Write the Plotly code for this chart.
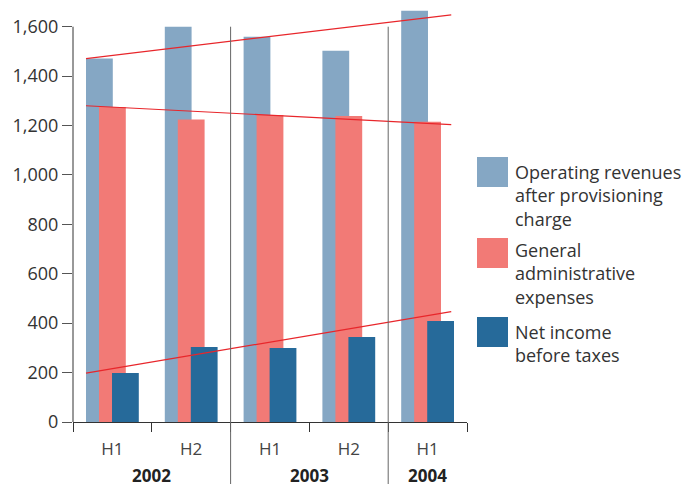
import plotly.graph_objects as go

# ---- data ----
periods = ["H1", "H2", "H1", "H2", "H1"]
years = ["2002", "2002", "2003", "2003", "2004"]
operating_revenues = [1471, 1600, 1559, 1503, 1665]
admin_expenses = [1275, 1224, 1243, 1239, 1215]
net_income = [198, 304, 300, 344, 409]
# hand-drawn trend lines: value at start, value at end
revenues_trend = [1471, 1648]
expenses_trend = [1280, 1204]
income_trend = [198, 447]
y_ticks = [0, 200, 400, 600, 800, 1000, 1200, 1400, 1600]
series_names = [
    "Operating revenues after provisioning charge",
    "General administrative expenses",
    "Net income before taxes",
]
legend_lines = [
    ["Operating revenues", "after provisioning", "charge"],
    ["General", "administrative", "expenses"],
    ["Net income", "before taxes"],
]

# ---- styling ----
C_REV = "#85A7C4"
C_EXP = "#F27A76"
C_INC = "#266A9A"
C_TREND = "#E8262B"
FONT = "Open Sans"
TXT = "#333333"

W, H = 689, 487
ML, MR, MT, MB = 73, 222, 2, 65
PW, PH = W - ML - MR, H - MT - MB
YMAX = 1700

def px_x(px):
    return (px - ML) / PW

def px_y(py):
    return (H - MB - py) / PH

xs = list(range(len(periods)))
bar_w = 0.34
offsets = [-0.335, -0.17, -0.005]

fig = go.Figure()
for vals, col, off, name in zip(
    [operating_revenues, admin_expenses, net_income],
    [C_REV, C_EXP, C_INC], offsets, series_names):
    fig.add_trace(go.Bar(x=xs, y=vals, width=bar_w, offset=off,
                         marker=dict(color=col, line=dict(width=0)),
                         name=name, showlegend=False))

trend_x = [xs[0] + offsets[0], xs[-1] + 0.30]
for tr in [revenues_trend, expenses_trend, income_trend]:
    fig.add_trace(go.Scatter(x=trend_x, y=tr, mode="lines",
                             line=dict(color=C_TREND, width=1.2),
                             showlegend=False, hoverinfo="skip"))

shapes = []
# y axis line up to the last tick
shapes.append(dict(type="line", xref="paper", yref="y", x0=0, x1=0,
                   y0=0, y1=y_ticks[-1], line=dict(color="#333", width=1)))
# year dividers
for i in range(1, len(years)):
    if years[i] != years[i - 1]:
        shapes.append(dict(type="line", xref="x", yref="paper",
                           x0=i - 0.5, x1=i - 0.5,
                           y0=px_y(484), y1=y_ticks[-1] / YMAX,
                           line=dict(color="#666", width=1)))

annotations = []
# year labels
seen = []
for y in years:
    if y not in seen:
        seen.append(y)
for y in seen:
    idx = [i for i, v in enumerate(years) if v == y]
    annotations.append(dict(x=sum(idx) / len(idx), xref="x", y=px_y(475), yref="paper",
                            text="<b>%s</b>" % y, showarrow=False,
                            font=dict(family=FONT, size=17, color="#222"),
                            xanchor="center", yanchor="middle"))

# manual legend
sw_tops = [157, 238, 317]
block_centers = [195, 274, 343]
for col, top, lines, yc in zip([C_REV, C_EXP, C_INC], sw_tops, legend_lines, block_centers):
    shapes.append(dict(type="rect", xref="paper", yref="paper",
                       x0=px_x(477), x1=px_x(508), y0=px_y(top + 30), y1=px_y(top),
                       fillcolor=col, line=dict(width=0)))
    annotations.append(dict(x=px_x(513), xref="paper", y=px_y(yc),
                            yref="paper", text="<br>".join(lines), showarrow=False,
                            xanchor="left", yanchor="middle", align="left",
                            font=dict(family=FONT, size=18, color=TXT)))

fig.update_layout(
    width=W, height=H,
    margin=dict(l=ML, r=MR, t=MT, b=MB, autoexpand=False),
    barmode="overlay",
    plot_bgcolor="white", paper_bgcolor="white",
    font=dict(family=FONT, color=TXT),
    shapes=shapes, annotations=annotations,
    showlegend=False,
)
fig.update_yaxes(range=[0, YMAX], tickvals=y_ticks, tickformat=",",
                 showgrid=False, zeroline=False, showline=False, automargin=False,
                 ticks="outside", ticklen=10, tickwidth=1.2, tickcolor="#555",
                 tickfont=dict(family=FONT, size=18, color=TXT))
fig.update_xaxes(range=[-0.5, len(periods) - 0.5], tickmode="array",
                 tickvals=xs, ticktext=periods, ticks="",
                 showgrid=False, zeroline=False, automargin=False,
                 showline=True, linecolor="#333", linewidth=1,
                 ticklabelstandoff=12,
                 minor=dict(tickmode="array",
                            tickvals=[i - 0.5 for i in range(len(periods) + 1)],
                            ticks="outside", ticklen=9, tickwidth=1, tickcolor="#333"),
                 tickfont=dict(family=FONT, size=17, color="#444"))

fig.write_html("out.html", config={"displayModeBar": False},
               post_script="document.body.style.margin='0';document.body.style.padding='0';")
